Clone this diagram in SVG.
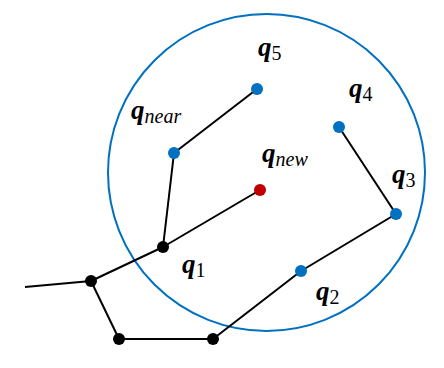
<svg xmlns="http://www.w3.org/2000/svg" width="444" height="368" viewBox="0 0 444 368">
<style>
.e{stroke:#000;stroke-width:2;fill:none}
.b{fill:#0070C0}
.k{fill:#000}
.r{fill:#C00000}
.q{font-family:"Liberation Serif",serif;font-style:italic;font-weight:bold;font-size:27px}
.s{font-family:"Liberation Serif",serif;font-size:20px;font-weight:normal;font-style:normal}
.si{font-style:italic}
</style>
<rect width="444" height="368" fill="#fff"/>
<circle cx="266.5" cy="172.5" r="158.5" fill="none" stroke="#0070C0" stroke-width="2"/>
<g id="connectors">
<line class="e" x1="25" y1="287" x2="91" y2="281"/>
<line class="e" x1="91" y1="281" x2="163" y2="247"/>
<line class="e" x1="163" y1="247" x2="260" y2="190"/>
<line class="e" x1="163" y1="247" x2="174" y2="153"/>
<line class="e" x1="174" y1="153" x2="257" y2="89"/>
<line class="e" x1="91" y1="281" x2="119" y2="339"/>
<line class="e" x1="119" y1="339" x2="213" y2="339"/>
<line class="e" x1="213" y1="339" x2="301" y2="271"/>
<line class="e" x1="301" y1="271" x2="396" y2="214"/>
<line class="e" x1="396" y1="214" x2="339" y2="127"/>
</g>
<g id="q5"><circle class="b" cx="257" cy="89" r="6"/><text class="q" x="258" y="56">q<tspan class="s" dy="4">5</tspan></text></g>
<g id="qnear"><circle class="b" cx="174" cy="153" r="6"/><text class="q" x="131" y="119">q<tspan class="s si" dy="4">near</tspan></text></g>
<g id="qnew"><circle class="r" cx="260" cy="190" r="6"/><text class="q" x="262" y="162">q<tspan class="s si" dy="4">new</tspan></text></g>
<g id="q4"><circle class="b" cx="339" cy="127" r="6"/><text class="q" x="349" y="97">q<tspan class="s" dy="4">4</tspan></text></g>
<g id="q3"><circle class="b" cx="396" cy="214" r="6"/><text class="q" x="392" y="183">q<tspan class="s" dy="4">3</tspan></text></g>
<g id="q2"><circle class="b" cx="301" cy="271" r="6"/><text class="q" x="316" y="300">q<tspan class="s" dy="4">2</tspan></text></g>
<g id="q1"><circle class="k" cx="163" cy="247" r="6"/><text class="q" x="182" y="273">q<tspan class="s" dy="4">1</tspan></text></g>
<g id="a"><circle class="k" cx="91" cy="281" r="6"/></g>
<g id="b"><circle class="k" cx="119" cy="339" r="6"/></g>
<g id="c"><circle class="k" cx="213" cy="339" r="6"/></g>
</svg>
